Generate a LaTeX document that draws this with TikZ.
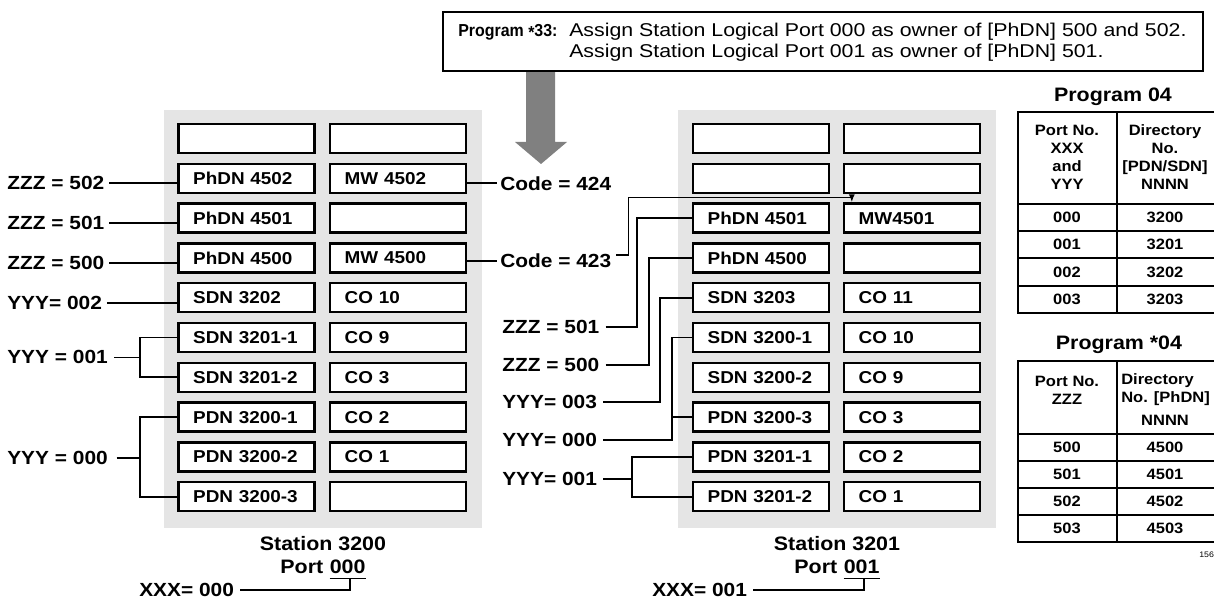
\documentclass[tikz,border=0pt]{standalone}
\usepackage{fontspec}
\setmainfont{Liberation Sans}[FakeStretch=1.1]
\newfontfamily\wideface{Liberation Sans}[FakeStretch=1.15]
\newfontfamily\narrowface{Liberation Sans}[FakeStretch=0.92]
\usetikzlibrary{arrows.meta,calc}

\begin{document}
\begin{tikzpicture}[x=0.75pt,y=0.75pt,yscale=-1,
  panel/.style={fill=black!10},
  slot/.style={draw, fill=white, line width=1.8pt, minimum width=102pt, minimum height=21.75pt, inner xsep=11pt, inner ysep=0pt, text width=80pt, align=left, font=\fontsize{12.9}{15}\selectfont\bfseries},
  lbl/.style={inner sep=1.5pt, font=\fontsize{14.25}{16}\selectfont\bfseries},
  ttl/.style={inner sep=0pt, align=center, font=\fontsize{14.6}{17}\selectfont\bfseries},
  cell/.style={inner sep=0pt, align=center, font=\fontsize{11.25}{13.5}\selectfont\bfseries},
  wire/.style={line width=1.3pt},
  rule/.style={line width=1.8pt},
  thinrule/.style={line width=1.2pt}]
\useasboundingbox (0,0) rectangle (1214,599);

%Shape: Rectangle (stations)
\fill[panel] (164,110) rectangle (482,528);
\fill[panel] (678,110) rectangle (996,528);

%Shape: Arrow
\fill[black!50] (526,71) -- (555,71) -- (555,142) -- (567,142) -- (541,164) -- (515,142) -- (526,142) -- cycle;

%Shape: Rectangle (program box)
\node[draw, line width=1.6pt, minimum width=570pt, minimum height=44.25pt, inner sep=0pt] (pbox) at (823,41.5) {};
% Text Node
\node[anchor=west, inner sep=0pt, font=\narrowface\fontsize{13}{15}\selectfont\bfseries] (ptitle) at (458,32) {Program \raisebox{-0.3ex}{*}33:};
% Text Node
\node[anchor=west, inner sep=0pt, align=left, font=\wideface\fontsize{13.9}{15.5}\selectfont] (ptext) at (569,42.5) {Assign Station Logical Port 000 as owner of [PhDN] 500 and 502.\\Assign Station Logical Port 001 as owner of [PhDN] 501.};

%Station 3200
\node[slot] (l1a) at (246.5,138.5) {};
\node[slot] (l1b) at (398,138.5) {};
\node[slot] (l2a) at (246.5,178.3) {PhDN 4502};
\node[slot] (l2b) at (398,178.3) {MW 4502};
\node[slot] (l3a) at (246.5,218.1) {PhDN 4501};
\node[slot] (l3b) at (398,218.1) {};
\node[slot] (l4a) at (246.5,257.9) {PhDN 4500};
\node[slot] (l4b) at (398,257.9) {MW 4500};
\node[slot] (l5a) at (246.5,297.7) {SDN 3202};
\node[slot] (l5b) at (398,297.7) {CO 10};
\node[slot] (l6a) at (246.5,337.5) {SDN 3201-1};
\node[slot] (l6b) at (398,337.5) {CO 9};
\node[slot] (l7a) at (246.5,377.3) {SDN 3201-2};
\node[slot] (l7b) at (398,377.3) {CO 3};
\node[slot] (l8a) at (246.5,417.1) {PDN 3200-1};
\node[slot] (l8b) at (398,417.1) {CO 2};
\node[slot] (l9a) at (246.5,456.9) {PDN 3200-2};
\node[slot] (l9b) at (398,456.9) {CO 1};
\node[slot] (l10a) at (246.5,496.7) {PDN 3200-3};
\node[slot] (l10b) at (398,496.7) {};

%Station 3201
\node[slot] (r1a) at (761,138.5) {};
\node[slot] (r1b) at (912,138.5) {};
\node[slot] (r2a) at (761,178.3) {};
\node[slot] (r2b) at (912,178.3) {};
\node[slot] (r3a) at (761,218.1) {PhDN 4501};
\node[slot] (r3b) at (912,218.1) {MW4501};
\node[slot] (r4a) at (761,257.9) {PhDN 4500};
\node[slot] (r4b) at (912,257.9) {};
\node[slot] (r5a) at (761,297.7) {SDN 3203};
\node[slot] (r5b) at (912,297.7) {CO 11};
\node[slot] (r6a) at (761,337.5) {SDN 3200-1};
\node[slot] (r6b) at (912,337.5) {CO 10};
\node[slot] (r7a) at (761,377.3) {SDN 3200-2};
\node[slot] (r7b) at (912,377.3) {CO 9};
\node[slot] (r8a) at (761,417.1) {PDN 3200-3};
\node[slot] (r8b) at (912,417.1) {CO 3};
\node[slot] (r9a) at (761,456.9) {PDN 3201-1};
\node[slot] (r9b) at (912,456.9) {CO 2};
\node[slot] (r10a) at (761,496.7) {PDN 3201-2};
\node[slot] (r10b) at (912,496.7) {CO 1};

% Text Node (left labels)
\node[lbl, anchor=west] (zl502) at (5,183.3) {ZZZ = 502};
\node[lbl, anchor=west] (zl501) at (5,223.1) {ZZZ = 501};
\node[lbl, anchor=west] (zl500) at (5,262.9) {ZZZ = 500};
\node[lbl, anchor=west] (yl002) at (5,302.7) {YYY= 002};
\node[lbl, anchor=west] (yl001) at (5,357.4) {YYY = 001};
\node[lbl, anchor=west] (yl000) at (5,457.7) {YYY = 000};
\node[lbl, anchor=west] (c424) at (498,183.3) {Code = 424};
\node[lbl, anchor=west] (c423) at (498,261) {Code = 423};

%Straight Lines
\draw[wire] ([xshift=2pt]zl502.east) -- (zl502.east -| l2a.west);
\draw[wire] ([xshift=2pt]zl501.east) -- (zl501.east -| l3a.west);
\draw[wire] ([xshift=2pt]zl500.east) -- (zl500.east -| l4a.west);
\draw[wire] ([xshift=2pt]yl002.east) -- (yl002.east -| l5a.west);
\coordinate (lj1) at (140,357.4);
\draw[wire] ([xshift=3pt]yl001.east) -- (yl001.east -| lj1);
\draw[wire] (l6a.west) -| (lj1) |- (l7a.west);
\coordinate (lj2) at (140,457.7);
\draw[wire] ([xshift=5pt]yl000.east) -- (yl000.east -| lj2);
\draw[wire] (l8a.west) -| (lj2) |- (l10a.west);
\draw[wire] ([xshift=-1pt]c424.west) -- (c424.west -| l2b.east);
\draw[wire] ([xshift=-1pt]c423.west) -- (c423.west -| l4b.east);
\draw[wire, -{Latex[length=6pt,width=4.5pt]}] ($(c423.east)+(3,-6)$) -- ++(12,0) |- ($(r3b.north west)+(9,-5)$) -- ($(r3b.north west)+(9,0)$);

% Text Node (right labels)
\node[lbl, anchor=west] (zr501) at (500,327) {ZZZ = 501};
\node[lbl, anchor=west] (zr500) at (500,365) {ZZZ = 500};
\node[lbl, anchor=west] (yr003) at (500,402) {YYY= 003};
\node[lbl, anchor=west] (yr000) at (500,440) {YYY= 000};
\node[lbl, anchor=west] (yr001) at (500,479) {YYY= 001};

%Straight Lines
\draw[wire] ([xshift=3pt]zr501.east) -| ($(r3a.west)+(-55,0)$) -- (r3a.west);
\draw[wire] ([xshift=3pt]zr500.east) -| ($(r4a.west)+(-43,0)$) -- (r4a.west);
\draw[wire] ([xshift=3pt]yr003.east) -| ($(r5a.west)+(-32,0)$) -- (r5a.west);
\draw[wire] ([xshift=3pt]yr000.east) -| ($(r6a.west)+(-20,0)$) -- (r6a.west);
\draw[wire] ($(r8a.west)+(-20,0)$) -- (r8a.west);
\coordinate (rj1) at (632,479);
\draw[wire] ([xshift=3pt]yr001.east) -- (yr001.east -| rj1);
\draw[wire] (r9a.west) -| (rj1) |- (r10a.west);

% Text Node (station titles)
\node[ttl] (lstation) at (323,544) {Station 3200};
\node[ttl, anchor=base east] (lport) at (323.5,573) {Port};
\node[ttl, anchor=base west] (lpnum) at (329.5,573) {000};
\node[lbl, anchor=west] (xl000) at (137,590) {XXX= 000};
\draw[wire] ($(lpnum.south west)+(0,5)$) -- ($(lpnum.south east)+(0,5)$);
\draw[wire] ($(lpnum.south)+(2,5)$) |- ([xshift=3pt]xl000.east);

\node[ttl] (rstation) at (837,544) {Station 3201};
\node[ttl, anchor=base east] (rport) at (837.5,573) {Port};
\node[ttl, anchor=base west] (rpnum) at (843.5,573) {001};
\node[lbl, anchor=west] (xr001) at (650,590) {XXX= 001};
\draw[wire] ($(rpnum.south west)+(0,5)$) -- ($(rpnum.south east)+(0,5)$);
\draw[wire] ($(rpnum.south)+(2,5)$) |- ([xshift=3pt]xr001.east);

%Table: Program 04
\node[ttl] (t1title) at (1113,97) {Program 04};
\draw[rule] (1214,112) -- (1018,112) -- (1018,313) -- (1214,313);
\draw[rule] (1018,204) -- (1214,204);
\draw[rule] (1117,112) -- (1117,313);
\draw[thinrule] (1018,231) -- (1214,231);
\draw[thinrule] (1018,258) -- (1214,258);
\draw[thinrule] (1018,286) -- (1214,286);
\node[cell] (t1h1) at (1067,157) {Port No.\\XXX\\and\\YYY};
\node[cell] (t1h2) at (1165,157) {Directory\\No.\\{[PDN/SDN]}\\NNNN};
\node[cell] (t1a1) at (1067,217.5) {000};
\node[cell] (t1b1) at (1165,217.5) {3200};
\node[cell] (t1a2) at (1067,244.5) {001};
\node[cell] (t1b2) at (1165,244.5) {3201};
\node[cell] (t1a3) at (1067,272) {002};
\node[cell] (t1b3) at (1165,272) {3202};
\node[cell] (t1a4) at (1067,299.5) {003};
\node[cell] (t1b4) at (1165,299.5) {3203};

%Table: Program *04
\node[ttl] (t2title) at (1119,345) {Program *04};
\draw[rule] (1214,361) -- (1018,361) -- (1018,542) -- (1214,542);
\draw[rule] (1018,434) -- (1214,434);
\draw[rule] (1117,361) -- (1117,542);
\draw[thinrule] (1018,461) -- (1214,461);
\draw[thinrule] (1018,488) -- (1214,488);
\draw[thinrule] (1018,515) -- (1214,515);
\node[cell] (t2h1) at (1067,390) {Port No.\\ZZZ};
\node[cell, anchor=west, align=left] (t2h2) at (1121,390) {Directory\\No. [PhDN]};
\node[cell] (t2h3) at (1165,420) {NNNN};
\node[cell] (t2a1) at (1067,447.5) {500};
\node[cell] (t2b1) at (1165,447.5) {4500};
\node[cell] (t2a2) at (1067,474.5) {501};
\node[cell] (t2b2) at (1165,474.5) {4501};
\node[cell] (t2a3) at (1067,501.5) {502};
\node[cell] (t2b3) at (1165,501.5) {4502};
\node[cell] (t2a4) at (1067,528.5) {503};
\node[cell] (t2b4) at (1165,528.5) {4503};

% Text Node
\node[anchor=west, inner sep=0pt, font=\fontsize{6}{7}\selectfont] (figno) at (1199,555) {156};

\end{tikzpicture}
\end{document}
